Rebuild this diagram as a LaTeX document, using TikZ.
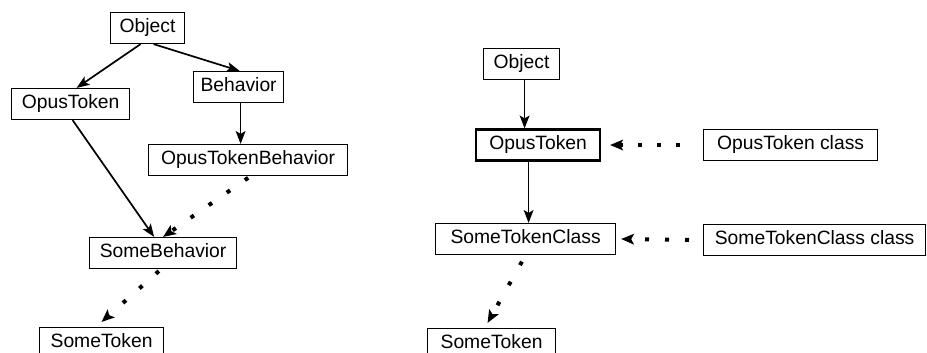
\documentclass[tikz,border=0pt]{standalone}
\usepackage{fontspec}
\setmainfont{Liberation Sans}
\usetikzlibrary{arrows.meta}

\tikzset{
  box/.style={draw, line width=1.2pt, anchor=west, minimum height=31pt,
    inner xsep=0pt, inner ysep=0pt, text height=13.8pt, text depth=4pt,
    font=\fontsize{19.3pt}{22pt}\selectfont},
  heavybox/.style={box, line width=2.2pt},
  solidarrow/.style={line width=1.7pt,
    -{Stealth[length=13pt,width=10pt,inset=3pt,line width=0pt]}},
  dotarrow/.style={line width=4pt, dash pattern=on 4pt off 15pt,
    -{Stealth[length=13pt,width=11pt,inset=3pt,line width=0pt]}},
  slantdots/.style={dotarrow, dash pattern=on 4pt off 18pt, dash phase=19pt},
}

\begin{document}
\begin{tikzpicture}[x=1pt, y=-1pt]
\useasboundingbox (0,0) rectangle (927,353);
\clip (0,0) rectangle (927,353);

% ---- class hierarchy, left ----
\node[box, minimum width=74pt]  (lobj) at (110,28)  {Object};
\node[box, minimum width=118pt] (lot)  at (11,104)  {OpusToken};
\node[box, minimum width=90pt]  (lbeh) at (193,87)  {Behavior};
\node[box, minimum width=199pt] (lotb) at (148,160) {OpusTokenBehavior};
\node[box, minimum width=147pt] (lsb)  at (89,253)  {SomeBehavior};
\node[box, minimum width=124pt] (lst)  at (39,343)  {SomeToken};

\draw[solidarrow] ([xshift=-7pt]lobj.south) -- ([xshift=6pt]lot.north);
\draw[solidarrow] ([xshift=6pt]lobj.south) -- ([xshift=1pt]lbeh.north);
\draw[solidarrow] ([xshift=2pt]lbeh.south) -- ([xshift=2pt]lbeh.south |- lotb.north);
\draw[solidarrow] ([xshift=2pt]lot.south) -- ([xshift=-9pt]lsb.north);
\draw[slantdots] ([xshift=2.5pt]lotb.south) -- (lsb.north);
\draw[slantdots] ([xshift=-2pt]lsb.south) -- ([yshift=5pt]lst.north);

% ---- class hierarchy, right ----
\node[box, minimum width=76pt]       (robj)  at (483,64)  {Object};
\node[heavybox, minimum width=124pt] (rot)   at (475,145) {OpusToken};
\node[box, minimum width=174pt]      (rotc)  at (703,145) {OpusToken class};
\node[box, minimum width=180pt]      (rstc)  at (435,239) {SomeTokenClass};
\node[box, minimum width=222pt]      (rstcc) at (703,240) {SomeTokenClass class};
\node[box, minimum width=128pt]      (rst)   at (427,344) {SomeToken};

\draw[solidarrow] ([xshift=3pt]robj.south) -- ([xshift=3pt]robj.south |- rot.north);
\draw[solidarrow] ([xshift=3pt]rstc.north |- rot.south) -- ([xshift=3pt]rstc.north);
\draw[dotarrow] ([xshift=-23pt]rotc.west) -- ([xshift=9pt]rot.east);
\draw[dotarrow, dash pattern=on 4pt off 16pt] ([xshift=-14pt]rstcc.west) -- ([xshift=5pt]rstc.east);
\draw[slantdots, dash pattern=on 4pt off 19pt, dash phase=15.5pt]
  (rstc.south) -- ([xshift=-4pt,yshift=5pt]rst.north);
\end{tikzpicture}
\end{document}
